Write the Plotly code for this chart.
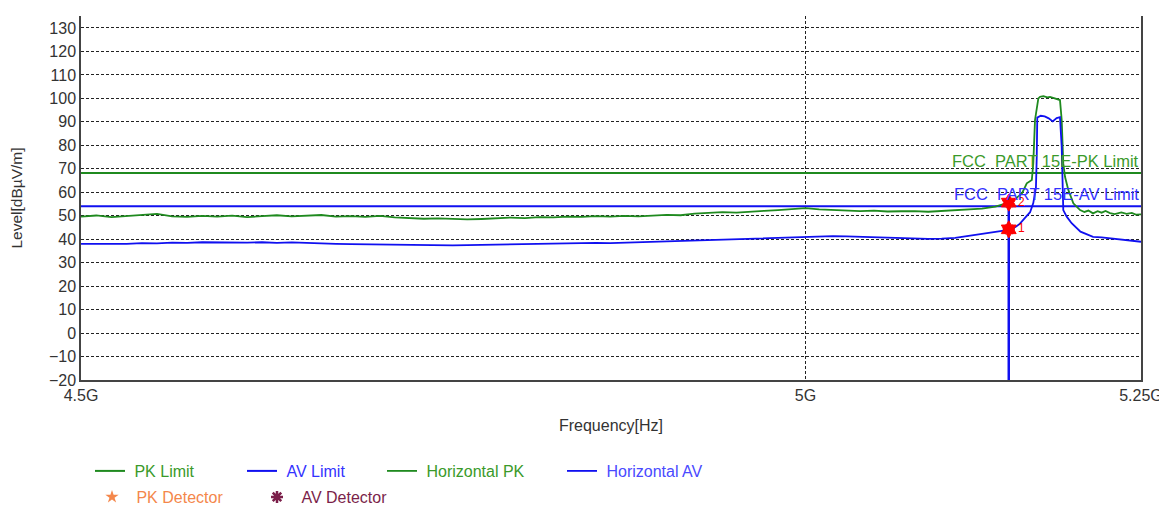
import math
import plotly.graph_objects as go

# ---------------- data ----------------
pk_freq_mhz = [4500, 4510, 4520, 4530, 4540, 4550, 4560, 4570, 4580, 4590,
               4600, 4610, 4620, 4630, 4640, 4650, 4660, 4670, 4680, 4690,
               4700, 4710, 4720, 4730, 4740, 4750, 4760, 4770, 4780, 4790,
               4800, 4810, 4820, 4830, 4840, 4850, 4860, 4870, 4880, 4890,
               4900, 4910, 4920, 4930, 4940, 4950, 4960, 4970, 4980, 4990,
               5000, 5010, 5020, 5030, 5040, 5050, 5060, 5070, 5080, 5090,
               5100, 5110, 5120, 5130, 5140, 5145, 5150, 5155, 5160, 5163.5,
               5167.3, 5168.4, 5169.7, 5172.2, 5173.5, 5176, 5179, 5181, 5184, 5186.5,
               5188.5, 5189.8, 5191, 5192.3, 5194.8, 5198.6, 5203.7, 5207, 5210, 5213.5,
               5217, 5220, 5223, 5226.4, 5230, 5235, 5239, 5243, 5246, 5250]
pk_level = [49.6, 50.1, 49.4, 49.9, 50.3, 50.8, 49.7, 49.5, 49.9, 49.6,
            50.0, 49.4, 49.8, 50.2, 49.7, 49.9, 50.3, 49.6, 49.8, 49.5,
            49.9, 49.3, 49.1, 48.7, 48.9, 48.5, 48.4, 48.6, 48.9, 49.2,
            49.0, 49.4, 49.3, 49.6, 49.5, 49.8, 49.6, 49.9, 49.7, 50.1,
            50.4, 50.2, 50.9, 51.2, 51.5, 51.3, 51.8, 52.1, 52.4, 52.8,
            53.2, 52.7, 52.5, 52.3, 52.0, 52.2, 51.8, 51.9, 52.0, 51.7,
            52.1, 52.3, 52.6, 53.0, 53.9, 54.8, 55.6, 57.2, 59.6, 63.8,
            65.2, 72.3, 90.8, 100.0, 100.7, 100.9, 100.4, 100.6, 100.1, 99.6,
            99.3, 90.8, 72.3, 66.6, 61.0, 55.3, 52.4, 51.6, 52.2, 51.0,
            51.9, 51.3, 52.0, 51.1, 50.7, 51.4, 50.8, 51.2, 50.5, 50.6]

av_freq_mhz = [4500, 4510, 4520, 4530, 4540, 4550, 4560, 4570, 4580, 4590,
               4600, 4610, 4620, 4630, 4640, 4650, 4660, 4670, 4680, 4690,
               4700, 4710, 4720, 4730, 4740, 4750, 4760, 4770, 4780, 4790,
               4800, 4810, 4820, 4830, 4840, 4850, 4860, 4870, 4880, 4890,
               4900, 4910, 4920, 4930, 4940, 4950, 4960, 4970, 4980, 4990,
               5000, 5010, 5020, 5030, 5040, 5050, 5060, 5070, 5080, 5090,
               5100, 5110, 5120, 5130, 5140, 5145, 5150, 5155, 5158.4, 5162,
               5166, 5168.4, 5170.4, 5171, 5171.4, 5174, 5177, 5180, 5183, 5186,
               5188.5, 5189.8, 5191, 5193.6, 5197.3, 5204, 5210, 5213.5, 5220, 5226.4,
               5232, 5238, 5244, 5250]
av_level = [38.0, 37.9, 38.1, 38.0, 38.3, 38.2, 38.5, 38.4, 38.7, 38.6,
            38.8, 38.5, 38.7, 38.4, 38.6, 38.3, 38.2, 38.0, 37.9, 37.8,
            37.9, 37.7, 37.6, 37.5, 37.4, 37.4, 37.5, 37.6, 37.8, 38.0,
            38.1, 38.2, 38.1, 38.3, 38.2, 38.4, 38.3, 38.5, 38.6, 38.7,
            38.9, 39.1, 39.3, 39.5, 39.7, 39.9, 40.1, 40.3, 40.5, 40.8,
            41.0, 41.2, 41.3, 41.2, 41.0, 40.8, 40.5, 40.4, 40.2, 40.1,
            40.2, 40.6, 41.4, 42.3, 43.1, 43.5, 44.0, 45.2, 46.6, 49.0,
            51.5, 55.4, 62.0, 75.0, 91.8, 92.6, 92.3, 91.5, 90.2, 91.6,
            92.0, 79.4, 52.4, 49.6, 46.8, 43.2, 41.8, 41.0, 40.8, 40.4,
            40.1, 39.6, 39.4, 38.9]

limit_freq_mhz = [4500, 5250]
pk_limit = [68.2, 68.2]
av_limit = [54.0, 54.0]

band_edge_mhz = 5150
pk_detector = 55.6
av_detector = 44.2
marker_labels = ["2", "1"]

x_tickvals = [4500, 5000, 5250]
x_ticktext = ["4.5G", "5G", "5.25G"]
y_min, y_max = -20, 130

# ---------------- style ----------------
GREEN = "#1f8a1f"
GREEN_TXT = "#3a9a2a"
BLUE = "#1010f0"
BLUE_TXT = "#3333ff"
ORANGE = "#f4874b"
MAROON = "#7b1f4a"
FONT = "Arial, Liberation Sans, sans-serif"
NB = "\u00a0"

fig = go.Figure()

fig.add_trace(go.Scatter(x=limit_freq_mhz, y=pk_limit, mode="lines",
                         line=dict(color=GREEN, width=2),
                         name=f"<span style='color:{GREEN_TXT}'>{NB}PK Limit</span>", legend="legend"))
fig.add_trace(go.Scatter(x=limit_freq_mhz, y=av_limit, mode="lines",
                         line=dict(color=BLUE, width=2),
                         name=f"<span style='color:{BLUE_TXT}'>{NB}AV Limit</span>", legend="legend2"))
fig.add_trace(go.Scatter(x=pk_freq_mhz, y=pk_level, mode="lines",
                         line=dict(color=GREEN, width=1.8),
                         name=f"<span style='color:{GREEN_TXT}'>{NB}Horizontal PK</span>", legend="legend3"))
fig.add_trace(go.Scatter(x=av_freq_mhz, y=av_level, mode="lines",
                         line=dict(color=BLUE, width=1.8),
                         name=f"<span style='color:#4a4aff'>{NB}Horizontal AV</span>", legend="legend4"))

# band edge vertical line
fig.add_trace(go.Scatter(x=[band_edge_mhz, band_edge_mhz], y=[y_min, pk_detector], mode="lines",
                         line=dict(color=BLUE, width=2.5), showlegend=False, hoverinfo="skip"))

fig.add_trace(go.Scatter(x=[band_edge_mhz], y=[pk_detector], mode="markers",
                         marker=dict(symbol="star", color=ORANGE, size=10),
                         name=f"<span style='color:{ORANGE}'>{NB}PK Detector</span>", legend="legend5"))
fig.add_trace(go.Scatter(x=[band_edge_mhz], y=[av_detector], mode="markers",
                         marker=dict(symbol="asterisk-open", color=MAROON, size=10,
                                     line=dict(color=MAROON, width=2.5)),
                         name=f"<span style='color:{MAROON}'>{NB}AV Detector</span>", legend="legend6"))

# red marker blobs with labels
fig.add_trace(go.Scatter(x=[band_edge_mhz, band_edge_mhz], y=[pk_detector, av_detector],
                         mode="markers+text", text=marker_labels, textposition="middle right",
                         textfont=dict(color="red", size=12, family=FONT),
                         marker=dict(symbol="hexagram", color="red", size=13,
                                     line=dict(color="red", width=1)),
                         showlegend=False, hoverinfo="skip"))

fig.add_annotation(x=1, xref="paper", y=73.3, yref="y", xanchor="right", yanchor="middle",
                   text="FCC\u00a0 PART 15E-PK Limit", showarrow=False,
                   font=dict(color=GREEN_TXT, size=16.5, family=FONT))
fig.add_annotation(x=1, xref="paper", y=59.2, yref="y", xanchor="right", yanchor="middle",
                   text="FCC\u00a0 PART 15E-AV Limit", showarrow=False,
                   font=dict(color=BLUE_TXT, size=16.5, family=FONT))

# page body has an 8px margin; figure coordinates = page coordinates - 8
OFF = 8
W, H = 1167 - OFF, 505 - OFF
L, T = 81 - OFF, 16 - OFF
R, B = 26, 125
plot_w = W - L - R
plot_h = H - T - B


def leg(page_x, page_y):
    fx, fy = page_x - OFF, page_y - OFF
    return dict(x=(fx - L) / plot_w, y=(H - B - fy) / plot_h, xanchor="left", yanchor="top",
                orientation="h", bgcolor="rgba(0,0,0,0)",
                font=dict(size=16, family=FONT), itemwidth=30)


fig.update_layout(
    width=W, height=H,
    margin=dict(l=L, r=R, t=T, b=B, autoexpand=False),
    paper_bgcolor="white", plot_bgcolor="white",
    font=dict(family=FONT, size=16, color="#333333"),
    showlegend=True,
    legend=leg(90, 454),
    legend2=leg(242, 454),
    legend3=leg(382, 454),
    legend4=leg(562, 454),
    legend5=leg(92, 480),
    legend6=leg(257, 480),
)

fig.update_xaxes(type="log", range=[math.log10(4500), math.log10(5250)],
                 tickvals=x_tickvals, ticktext=x_ticktext,
                 showgrid=True, gridcolor="#222222", griddash="3px,2px", gridwidth=1,
                 showline=True, linecolor="#444444", linewidth=1.5, mirror=False,
                 ticks="", tickfont=dict(size=16, color="#333333"),
                 title=dict(text="Frequency[Hz]", standoff=17, font=dict(size=16, color="#333333")),
                 zeroline=False)
fig.update_yaxes(range=[y_min, 135.1], tickvals=list(range(y_min, y_max + 1, 10)),
                 showgrid=True, gridcolor="#222222", griddash="3px,2px", gridwidth=1,
                 showline=True, linecolor="#444444", linewidth=1.5, mirror=True,
                 ticks="", tickfont=dict(size=16, color="#333333"),
                 title=dict(text="Level[dBµV/m]", standoff=22, font=dict(size=15.5, color="#333333")),
                 zeroline=False)

fig.write_html("out.html")
